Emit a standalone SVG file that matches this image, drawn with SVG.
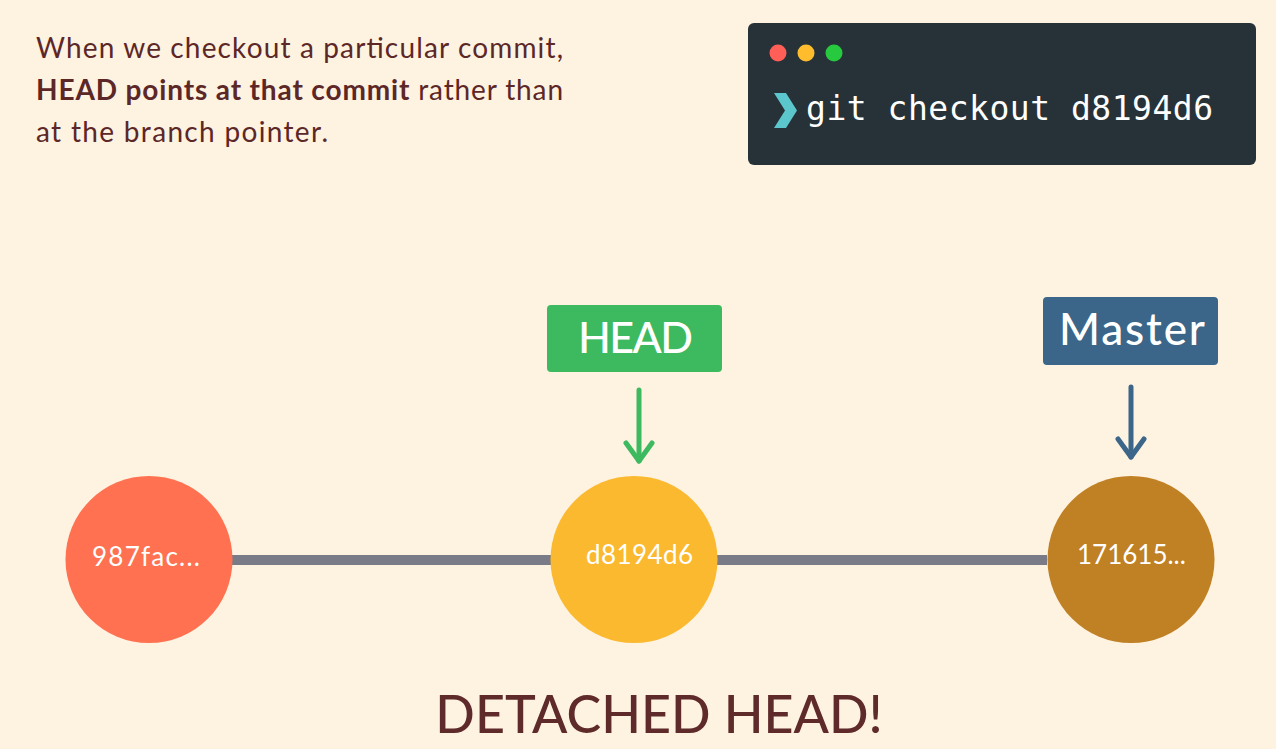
<svg xmlns="http://www.w3.org/2000/svg" width="1276" height="749" viewBox="0 0 1276 749">
<style>
.body{font-family:Lato,"Open Sans",sans-serif;font-size:28px;fill:#5c2727}
.commit{font-family:Lato,"Open Sans",sans-serif;font-size:26px;fill:#ffffff}
.label{font-family:Lato,"Open Sans",sans-serif;font-weight:500;fill:#ffffff}
.arrow{fill:none;stroke-width:5;stroke-linecap:round;stroke-linejoin:round}
</style>
<rect width="1276" height="749" fill="#fef2e1"/>
<g id="caption">
<text class="body" x="36" y="58" textLength="527">When we checkout a particular commit,</text>
<text class="body" x="36" y="100" textLength="527"><tspan font-weight="700">HEAD points at that commit</tspan> rather than</text>
<text class="body" x="36" y="142" textLength="292">at the branch pointer.</text>
</g>
<g id="terminal">
<rect x="748" y="23" width="508" height="142" rx="6" fill="#263238"/>
<circle cx="778" cy="53" r="8.5" fill="#ff5f56"/>
<circle cx="806" cy="53" r="8.5" fill="#ffbd2e"/>
<circle cx="834" cy="53" r="8.5" fill="#27c93f"/>
<polygon points="774,93 786,93 797,110.5 786,128 774,128 785,110.5" fill="#5bc6cc"/>
<text x="806" y="120" font-family="'DejaVu Sans Mono','Liberation Mono',monospace" font-size="33" fill="#ffffff" textLength="407">git checkout d8194d6</text>
</g>
<g id="connectors">
<line x1="232" y1="560" x2="1047" y2="560" stroke="#797c86" stroke-width="10"/>
<g stroke="#3dba5f" class="arrow"><line x1="639" y1="390" x2="639" y2="461"/><polyline points="626,443 639,461 652,443"/></g>
<g stroke="#3b6689" class="arrow"><line x1="1131" y1="387" x2="1131" y2="457"/><polyline points="1118,439 1131,457 1144,439"/></g>
</g>
<g id="commit-987fac">
<circle cx="149" cy="559.5" r="83.5" fill="#ff7150"/>
<text class="commit" x="92" y="566" textLength="108">987fac...</text>
</g>
<g id="commit-d8194d6">
<circle cx="634" cy="559.5" r="83.5" fill="#fbb92f"/>
<text class="commit" x="586" y="564" textLength="107">d8194d6</text>
</g>
<g id="commit-171615">
<circle cx="1131" cy="559.5" r="83.5" fill="#c08024"/>
<text class="commit" x="1077" y="564" font-size="24">171615...</text>
</g>
<g id="head-label">
<rect x="547" y="305" width="175" height="67" rx="4" fill="#3dba5f"/>
<text class="label" x="578" y="353" font-size="43" textLength="115">HEAD</text>
</g>
<g id="master-label">
<rect x="1043" y="297" width="175" height="68" rx="4" fill="#3b6689"/>
<text class="label" x="1059" y="345" font-size="44" textLength="146">Master</text>
</g>
<g id="title">
<text x="659" y="733" font-family="Lato,'Open Sans',sans-serif" font-size="52" font-weight="500" fill="#5f2a2a" text-anchor="middle">DETACHED HEAD!</text>
</g>
</svg>
